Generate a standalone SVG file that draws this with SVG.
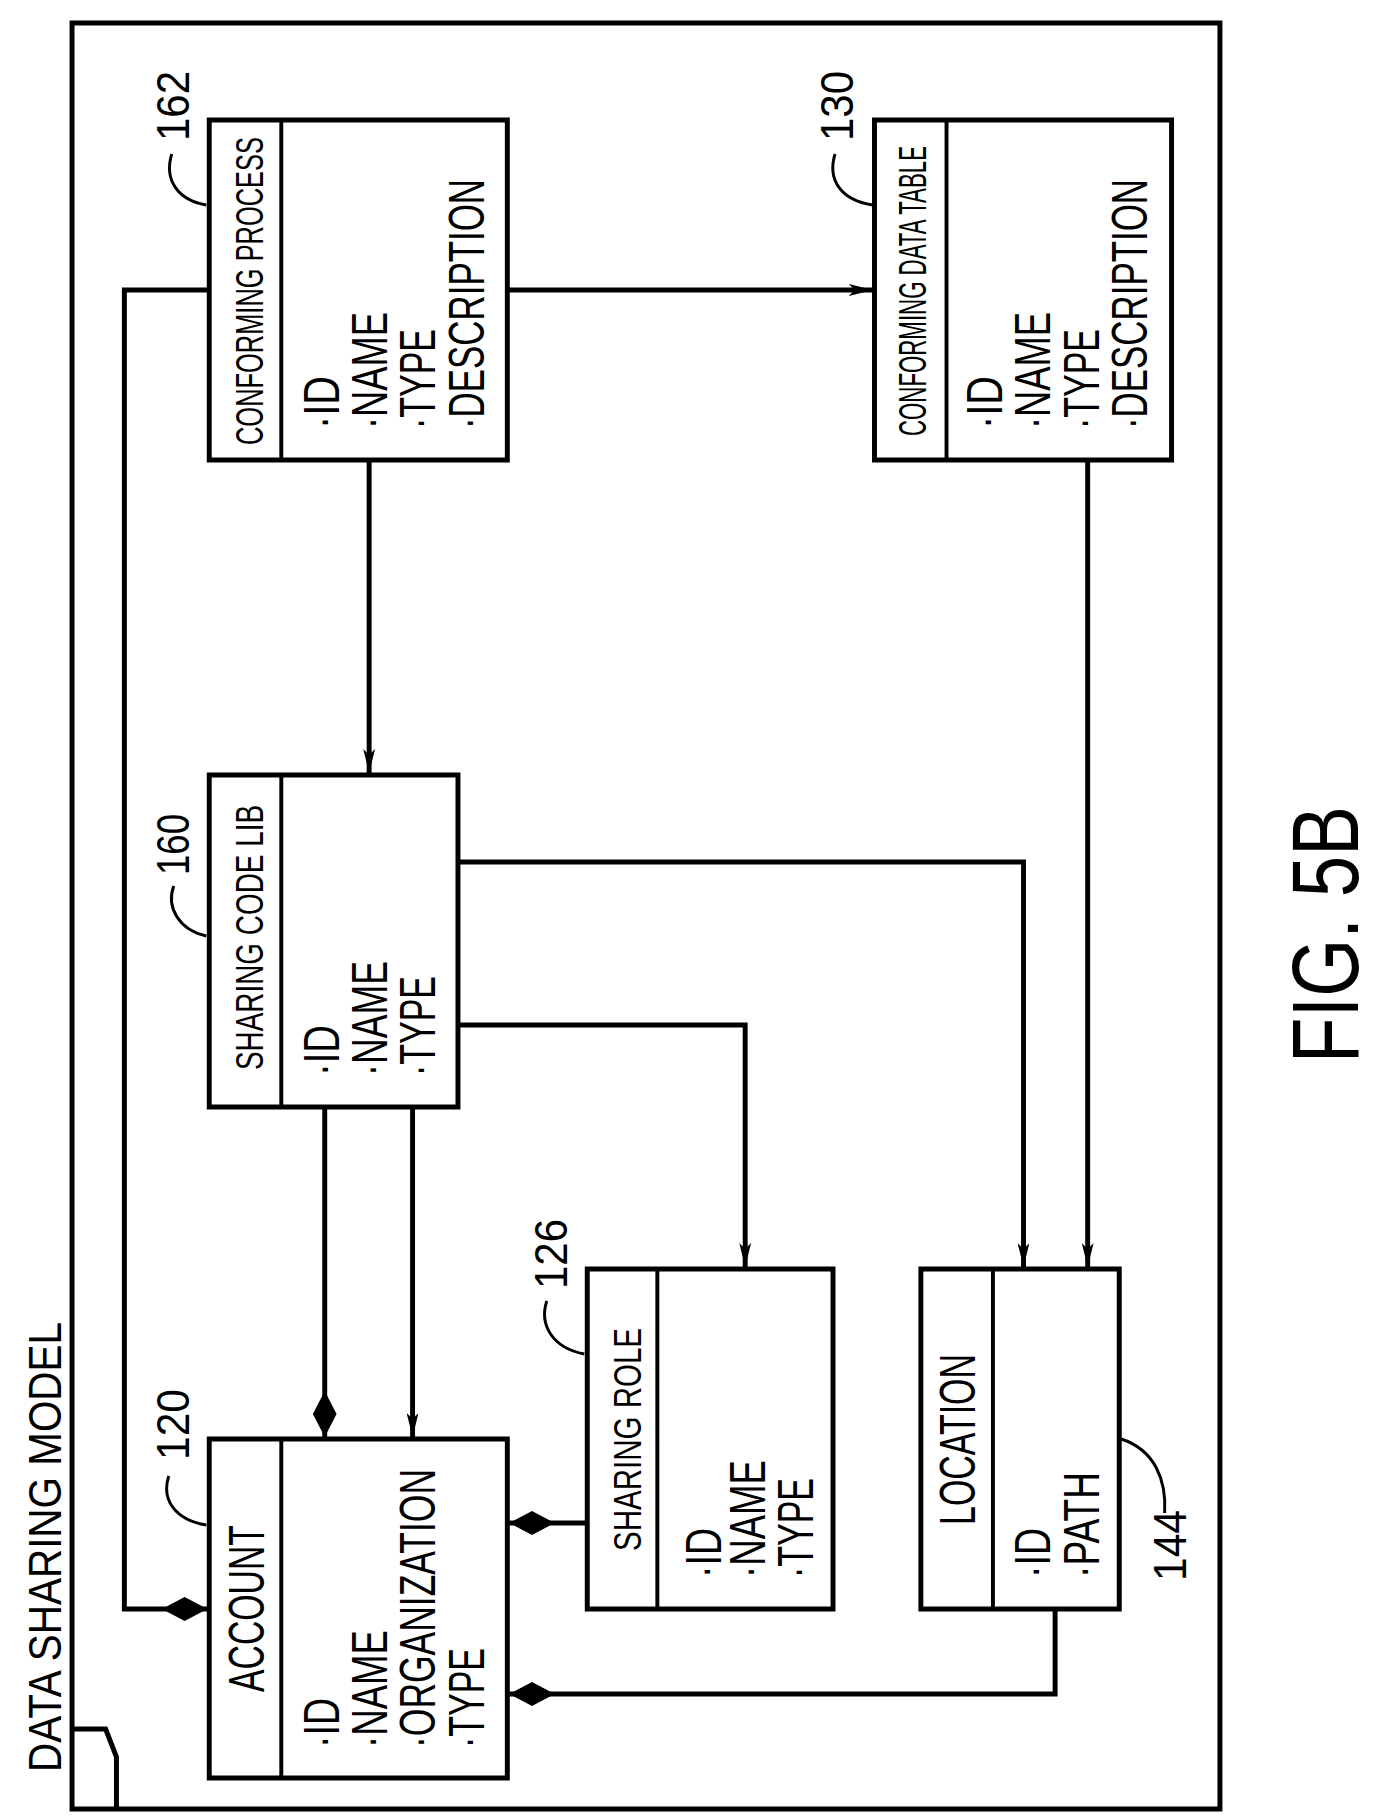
<svg xmlns="http://www.w3.org/2000/svg" width="1380" height="1820" viewBox="0 0 1380 1820">
<defs>
<marker id="arr" viewBox="0 0 24 12" refX="24" refY="6" markerWidth="24" markerHeight="12" markerUnits="userSpaceOnUse" orient="auto"><path d="M0,0 L24,6 L0,12 L6,6 Z" fill="#000"/></marker>
<marker id="dia" viewBox="0 0 46 24" refX="46" refY="12" markerWidth="46" markerHeight="24" markerUnits="userSpaceOnUse" orient="auto"><path d="M0,12 L23,0 L46,12 L23,24 Z" fill="#000"/></marker>
</defs>
<style>
text{font-family:"Liberation Sans",Arial,sans-serif;fill:#000}
.hd{font-size:40px}
.at{font-size:50px}
.lb{font-size:46px}
.box{fill:#fff;stroke:#000;stroke-width:5}
.ln{fill:none;stroke:#000;stroke-width:5}
.ld{fill:none;stroke:#000;stroke-width:3}
</style>
<rect width="1380" height="1820" fill="#fff"/>
<g transform="scale(0.987,1)">
<g id="frame">
<rect x="73" y="23" width="1163" height="1786" fill="none" stroke="#000" stroke-width="5"/>
<path d="M75,1729 L107,1729 L118,1757 L118,1809" class="ln"/>
<text transform="translate(62,1772) rotate(-90)" class="lb" textLength="450" lengthAdjust="spacingAndGlyphs">DATA SHARING MODEL</text>
</g>
<g id="connectors">
<path d="M514,290 L884,290" class="ln" marker-end="url(#arr)"/>
<path d="M212,290 L126,290 L126,1609 L210,1609" class="ln" marker-end="url(#dia)"/>
<path d="M374,460 L374,773" class="ln" marker-end="url(#arr)"/>
<path d="M464,862 L1037,862 L1037,1267" class="ln" marker-end="url(#arr)"/>
<path d="M464,1025 L755,1025 L755,1267" class="ln" marker-end="url(#arr)"/>
<path d="M1102,460 L1102,1267" class="ln" marker-end="url(#arr)"/>
<path d="M329,1107 L329,1437" class="ln" marker-end="url(#dia)"/>
<path d="M418,1107 L418,1437" class="ln" marker-end="url(#arr)"/>
<path d="M595,1523 L516,1523" class="ln" marker-end="url(#dia)"/>
<path d="M1069,1609 L1069,1694 L516,1694" class="ln" marker-end="url(#dia)"/>
</g>
<g id="n162">
<rect x="212" y="120" width="302" height="340" class="box"/>
<line x1="285" y1="120" x2="285" y2="460" stroke="#000" stroke-width="4"/>
<text transform="translate(266,445) rotate(-90)" class="hd" textLength="308" lengthAdjust="spacingAndGlyphs">CONFORMING  PROCESS</text>
<text transform="translate(343,429) rotate(-90)" class="at" textLength="53" lengthAdjust="spacingAndGlyphs">·ID</text>
<text transform="translate(392,429) rotate(-90)" class="at" textLength="117" lengthAdjust="spacingAndGlyphs">·NAME</text>
<text transform="translate(441,429) rotate(-90)" class="at" textLength="100" lengthAdjust="spacingAndGlyphs">·TYPE</text>
<text transform="translate(490,429) rotate(-90)" class="at" textLength="250" lengthAdjust="spacingAndGlyphs">·DESCRIPTION</text>
<text transform="translate(191,141) rotate(-90)" class="lb" textLength="70" lengthAdjust="spacingAndGlyphs">162</text>
<path d="M174,154 C166,180 180,200 209,205" class="ld"/>
</g>
<g id="n130">
<rect x="886" y="120" width="301" height="340" class="box"/>
<line x1="959" y1="120" x2="959" y2="460" stroke="#000" stroke-width="4"/>
<text transform="translate(938,436) rotate(-90)" class="hd" textLength="290" lengthAdjust="spacingAndGlyphs">CONFORMING DATA TABLE</text>
<text transform="translate(1015,429) rotate(-90)" class="at" textLength="53" lengthAdjust="spacingAndGlyphs">·ID</text>
<text transform="translate(1064,429) rotate(-90)" class="at" textLength="117" lengthAdjust="spacingAndGlyphs">·NAME</text>
<text transform="translate(1113,429) rotate(-90)" class="at" textLength="100" lengthAdjust="spacingAndGlyphs">·TYPE</text>
<text transform="translate(1162,429) rotate(-90)" class="at" textLength="250" lengthAdjust="spacingAndGlyphs">·DESCRIPTION</text>
<text transform="translate(864,141) rotate(-90)" class="lb" textLength="70" lengthAdjust="spacingAndGlyphs">130</text>
<path d="M846,154 C838,180 852,200 884,205" class="ld"/>
</g>
<g id="n160">
<rect x="212" y="775" width="252" height="332" class="box"/>
<line x1="285" y1="775" x2="285" y2="1107" stroke="#000" stroke-width="4"/>
<text transform="translate(266,1070) rotate(-90)" class="hd" textLength="265" lengthAdjust="spacingAndGlyphs">SHARING  CODE  LIB</text>
<text transform="translate(343,1076) rotate(-90)" class="at" textLength="51" lengthAdjust="spacingAndGlyphs">·ID</text>
<text transform="translate(392,1076) rotate(-90)" class="at" textLength="115" lengthAdjust="spacingAndGlyphs">·NAME</text>
<text transform="translate(441,1076) rotate(-90)" class="at" textLength="100" lengthAdjust="spacingAndGlyphs">·TYPE</text>
<text transform="translate(191,875) rotate(-90)" class="lb" textLength="61" lengthAdjust="spacingAndGlyphs">160</text>
<path d="M176,886 C168,908 182,930 209,936" class="ld"/>
</g>
<g id="n120">
<rect x="212" y="1439" width="302" height="339" class="box"/>
<line x1="285" y1="1439" x2="285" y2="1778" stroke="#000" stroke-width="4"/>
<text transform="translate(267,1692) rotate(-90)" class="at" textLength="167" lengthAdjust="spacingAndGlyphs">ACCOUNT</text>
<text transform="translate(343,1748) rotate(-90)" class="at" textLength="50" lengthAdjust="spacingAndGlyphs">·ID</text>
<text transform="translate(392,1748) rotate(-90)" class="at" textLength="118" lengthAdjust="spacingAndGlyphs">·NAME</text>
<text transform="translate(441,1748) rotate(-90)" class="at" textLength="279" lengthAdjust="spacingAndGlyphs">·ORGANIZATION</text>
<text transform="translate(490,1748) rotate(-90)" class="at" textLength="100" lengthAdjust="spacingAndGlyphs">·TYPE</text>
<text transform="translate(191,1460) rotate(-90)" class="lb" textLength="71" lengthAdjust="spacingAndGlyphs">120</text>
<path d="M171,1476 C163,1500 178,1520 209,1525" class="ld"/>
</g>
<g id="n126">
<rect x="595" y="1269" width="249" height="340" class="box"/>
<line x1="666" y1="1269" x2="666" y2="1609" stroke="#000" stroke-width="4"/>
<text transform="translate(649,1551) rotate(-90)" class="hd" textLength="223" lengthAdjust="spacingAndGlyphs">SHARING  ROLE</text>
<text transform="translate(730,1578) rotate(-90)" class="at" textLength="50" lengthAdjust="spacingAndGlyphs">·ID</text>
<text transform="translate(775,1578) rotate(-90)" class="at" textLength="118" lengthAdjust="spacingAndGlyphs">·NAME</text>
<text transform="translate(824,1578) rotate(-90)" class="at" textLength="100" lengthAdjust="spacingAndGlyphs">·TYPE</text>
<text transform="translate(574,1289) rotate(-90)" class="lb" textLength="70" lengthAdjust="spacingAndGlyphs">126</text>
<path d="M554,1301 C546,1325 560,1348 592,1354" class="ld"/>
</g>
<g id="n144">
<rect x="933" y="1269" width="201" height="340" class="box"/>
<line x1="1006" y1="1269" x2="1006" y2="1609" stroke="#000" stroke-width="4"/>
<text transform="translate(988,1525) rotate(-90)" class="at" textLength="171" lengthAdjust="spacingAndGlyphs">LOCATION</text>
<text transform="translate(1064,1578) rotate(-90)" class="at" textLength="50" lengthAdjust="spacingAndGlyphs">·ID</text>
<text transform="translate(1113,1578) rotate(-90)" class="at" textLength="106" lengthAdjust="spacingAndGlyphs">·PATH</text>
<text transform="translate(1202,1581) rotate(-90)" class="lb" textLength="71" lengthAdjust="spacingAndGlyphs">144</text>
<path d="M1136,1439 C1170,1450 1182,1480 1180,1513" class="ld"/>
</g>
<g id="fig">
<text transform="translate(1376,1063) rotate(-90)" font-size="96" textLength="257" lengthAdjust="spacingAndGlyphs">FIG. 5B</text>
</g>
</g>
</svg>
